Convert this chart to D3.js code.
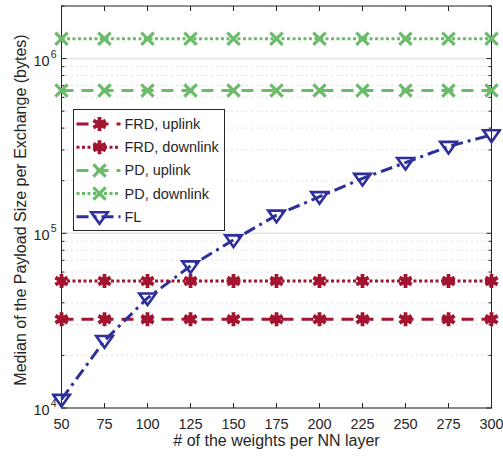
<!DOCTYPE html>
<html>
<head>
<meta charset="utf-8">
<script src="https://cdn.jsdelivr.net/npm/d3@7"></script>
<style>
  body { margin: 0; background: #fff; }
  svg text { font-family: "Liberation Sans", Arial, sans-serif; fill: #262626; }
</style>
</head>
<body>
<script>
// data
var weights = [50, 75, 100, 125, 150, 175, 200, 225, 250, 275, 300];
var frdUp = [32200, 32200, 32200, 32200, 32200, 32200, 32200, 32200, 32200, 32200, 32200];
var frdDown = [53300, 53300, 53300, 53300, 53300, 53300, 53300, 53300, 53300, 53300, 53300];
var pdUp = [656000, 656000, 656000, 656000, 656000, 656000, 656000, 656000, 656000, 656000, 656000];
var pdDown = [1300000, 1300000, 1300000, 1300000, 1300000, 1300000, 1300000, 1300000, 1300000, 1300000, 1300000];
var fl = [11200, 24300, 42600, 65000, 91600, 127000, 162000, 206000, 254000, 314000, 366000];
var xTicks = [50, 75, 100, 125, 150, 175, 200, 225, 250, 275, 300];
var yTicks = [1e4, 1e5, 1e6];

var series = [
  { name: "FRD, uplink", values: frdUp, color: "#A2142F", dash: "12,8", marker: "ast" },
  { name: "FRD, downlink", values: frdDown, color: "#A2142F", dash: "3,2.5", marker: "ast" },
  { name: "PD, uplink", values: pdUp, color: "#6ABB6A", dash: "12,8", marker: "x" },
  { name: "PD, downlink", values: pdDown, color: "#6ABB6A", dash: "3,2.5", marker: "x" },
  { name: "FL", values: fl, color: "#2E2F9A", dash: "12,5,3,5", marker: "tri" }
];

var W = 503, H = 457;
var margin = { top: 6, right: 11.5, bottom: 49, left: 61.5 };
var width = W - margin.left - margin.right,
    height = H - margin.top - margin.bottom;

var svg = d3.select("body").append("svg")
  .attr("width", W).attr("height", H);

var g = svg.append("g")
  .attr("transform", "translate(" + margin.left + "," + margin.top + ")");

var x = d3.scaleLinear().domain([50, 300]).range([0, width]);
var y = d3.scaleLog().domain([1e4, 2e6]).range([height, 0]);

// minor values
var minor = [];
[1e4, 1e5, 1e6].forEach(function(dec) {
  for (var k = 2; k <= 9; k++) {
    if (dec * k <= 2e6) minor.push(dec * k);
  }
});

// grid
g.append("g").selectAll("line").data(minor).enter().append("line")
  .attr("x1", 0).attr("x2", width)
  .attr("y1", d => y(d)).attr("y2", d => y(d))
  .attr("stroke", "#c4c4c4").attr("stroke-width", 1)
  .attr("stroke-dasharray", "1,4");
g.append("g").selectAll("line").data(yTicks).enter().append("line")
  .attr("x1", 0).attr("x2", width)
  .attr("y1", d => y(d)).attr("y2", d => y(d))
  .attr("stroke", "#e3e3e3").attr("stroke-width", 1.5);

// box
g.append("rect").attr("width", width).attr("height", height)
  .attr("fill", "none").attr("stroke", "#262626").attr("stroke-width", 1);

// x ticks
var tk = g.append("g");
xTicks.forEach(function(t) {
  tk.append("line").attr("x1", x(t)).attr("x2", x(t)).attr("y1", height).attr("y2", height - 5)
    .attr("stroke", "#262626");
  tk.append("line").attr("x1", x(t)).attr("x2", x(t)).attr("y1", 0).attr("y2", 5)
    .attr("stroke", "#262626");
  tk.append("text").attr("x", x(t)).attr("y", height + 20.5)
    .attr("text-anchor", "middle").style("font-size", "14.5px").text(t);
});
// y ticks
yTicks.forEach(function(t) {
  tk.append("line").attr("x1", 0).attr("x2", 5).attr("y1", y(t)).attr("y2", y(t)).attr("stroke", "#262626");
  tk.append("line").attr("x1", width).attr("x2", width - 5).attr("y1", y(t)).attr("y2", y(t)).attr("stroke", "#262626");
  var tx = tk.append("text").attr("x", -5).attr("y", y(t) + 7)
    .attr("text-anchor", "end").style("font-size", "14.5px");
  tx.append("tspan").text("10");
  tx.append("tspan").attr("dy", -8).attr("dx", 1).style("font-size", "10.5px").text(Math.round(Math.log10(t)));
});
minor.forEach(function(t) {
  tk.append("line").attr("x1", 0).attr("x2", 3).attr("y1", y(t)).attr("y2", y(t)).attr("stroke", "#262626");
  tk.append("line").attr("x1", width).attr("x2", width - 3).attr("y1", y(t)).attr("y2", y(t)).attr("stroke", "#262626");
});

// axis labels
svg.append("text")
  .attr("x", margin.left + width / 2).attr("y", H - 11)
  .attr("text-anchor", "middle").style("font-size", "16px")
  .text("# of the weights per NN layer");
svg.append("text")
  .attr("transform", "translate(26," + (margin.top + height / 2 + 3) + ") rotate(-90)")
  .attr("text-anchor", "middle").style("font-size", "16px")
  .text("Median of the Payload Size per Exchange (bytes)");

// markers
function drawMarker(sel, type, color) {
  if (type === "ast") {
    sel.append("path").attr("d", d3.symbol().type(d3.symbolAsterisk).size(140)())
      .attr("fill", "none").attr("stroke", color).attr("stroke-width", 3.8);
    sel.append("circle").attr("r", 4).attr("fill", color);
  } else if (type === "x") {
    sel.append("path").attr("d", d3.symbol().type(d3.symbolTimes).size(100)())
      .attr("fill", "none").attr("stroke", color).attr("stroke-width", 3.2);
  } else {
    var r = 8.3;
    sel.append("path")
      .attr("d", "M" + (-r) + "," + (-r * 0.55) + "L" + r + "," + (-r * 0.55) + "L0," + (r * 0.85) + "Z")
      .attr("fill", "none").attr("stroke", color).attr("stroke-width", 2.6)
      .attr("stroke-linejoin", "miter");
  }
}

var line = d3.line().x((d, i) => x(weights[i])).y(d => y(d));
var clip = svg.append("defs").append("clipPath").attr("id", "clip")
  .append("rect").attr("x", -10).attr("y", -10).attr("width", width + 20).attr("height", height + 20);

series.forEach(function(s) {
  var sg = g.append("g").attr("clip-path", "url(#clip)");
  sg.append("path").datum(s.values).attr("d", line)
    .attr("fill", "none").attr("stroke", s.color).attr("stroke-width", 3)
    .attr("stroke-dasharray", s.dash);
  s.values.forEach(function(v, i) {
    var m = sg.append("g").attr("transform", "translate(" + x(weights[i]) + "," + y(v) + ")");
    drawMarker(m, s.marker, s.color);
  });
});

// legend
var lg = svg.append("g").attr("transform", "translate(73.5,109.5)");
lg.append("rect").attr("width", 151).attr("height", 121)
  .attr("fill", "#fff").attr("stroke", "#262626").attr("stroke-width", 1);
series.forEach(function(s, i) {
  var yy = 14.5 + i * 23.2;
  lg.append("line").attr("x1", 3).attr("x2", 47).attr("y1", yy).attr("y2", yy)
    .attr("stroke", s.color).attr("stroke-width", 3).attr("stroke-dasharray", s.dash);
  var m = lg.append("g").attr("transform", "translate(26," + yy + ")");
  drawMarker(m, s.marker, s.color);
  lg.append("text").attr("x", 51).attr("y", yy + 5)
    .style("font-size", "14.5px").text(s.name);
});
</script>
</body>
</html>
